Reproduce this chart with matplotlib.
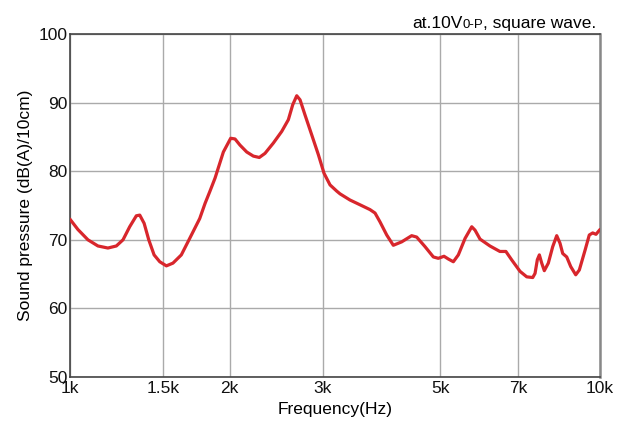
import matplotlib
matplotlib.use("Agg")
import matplotlib.pyplot as plt
from matplotlib.offsetbox import TextArea, HPacker, AnchoredOffsetbox

plt.rcParams['font.family'] = ['Liberation Sans', 'DejaVu Sans']

# frequency response (Hz, dB(A))
freq = [1000, 1035, 1081, 1129, 1179, 1223, 1259, 1296, 1334, 1354, 1380, 1408,
        1441, 1477, 1520, 1564, 1622, 1682, 1757, 1798, 1835, 1878, 1947, 2010,
        2048, 2093, 2155, 2218, 2276, 2333, 2419, 2509, 2582, 2632, 2678, 2717,
        2776, 2858, 2942, 3015, 3095, 3186, 3232, 3375, 3526, 3682, 3763, 3846,
        3959, 4074, 4225, 4412, 4509, 4676, 4848, 4954, 5078, 5174, 5288, 5404,
        5564, 5728, 5811, 5938, 6199, 6473, 6644, 6810, 7065, 7274, 7466, 7541,
        7617, 7684, 7763, 7851, 7989, 8143, 8286, 8405, 8505, 8654, 8805, 8999,
        9141, 9373, 9545, 9688, 9828, 10000]
spl = [73.0, 71.5, 70.0, 69.1, 68.8, 69.1, 70.0, 71.9, 73.5, 73.6, 72.4, 70.0,
       67.8, 66.8, 66.2, 66.6, 67.8, 70.2, 73.1, 75.3, 77.0, 79.0, 82.8, 84.8,
       84.7, 83.8, 82.8, 82.2, 82.0, 82.6, 84.1, 85.8, 87.5, 89.7, 91.0, 90.4,
       88.2, 85.3, 82.4, 79.7, 78.0, 77.1, 76.7, 75.8, 75.1, 74.4, 73.9, 72.6,
       70.7, 69.2, 69.7, 70.6, 70.4, 69.0, 67.5, 67.3, 67.6, 67.2, 66.8, 67.8,
       70.2, 71.9, 71.4, 70.1, 69.1, 68.3, 68.3, 67.1, 65.4, 64.6, 64.5, 65.1,
       67.1, 67.8, 66.6, 65.5, 66.6, 69.0, 70.6, 69.5, 68.0, 67.5, 66.1, 64.9,
       65.6, 68.5, 70.7, 71.0, 70.8, 71.5]

xticks = [1000, 1500, 2000, 3000, 5000, 7000, 10000]
xlabels = ['1k', '1.5k', '2k', '3k', '5k', '7k', '10k']
yticks = [50, 60, 70, 80, 90, 100]

fig = plt.figure(figsize=(6.24, 4.21), dpi=100)
ax = fig.add_axes([70 / 624, 1 - 377 / 421, 530 / 624, 343 / 421])

ax.plot(freq, spl, color='#d8262c', linewidth=2.3, solid_joinstyle='round',
        solid_capstyle='round', zorder=3)

ax.set_xscale('log')
ax.set_xlim(1000, 10000)
ax.set_ylim(50, 100)
ax.set_xticks(xticks)
ax.set_xticklabels(xlabels)
ax.xaxis.set_minor_locator(matplotlib.ticker.NullLocator())
ax.set_yticks(yticks)
ax.tick_params(length=0, labelsize=12.5, colors='#111111')
ax.tick_params(axis='x', pad=3)
ax.tick_params(axis='y', pad=2)
ax.grid(True, color='#aaaaaa', linewidth=1.0)
for side in ax.spines.values():
    side.set_color('#444444')
    side.set_linewidth(1.2)
ax.spines['right'].set_color('#888888')
ax.spines['right'].set_linewidth(1.8)

ax.set_xlabel('Frequency(Hz)', fontsize=12.5, labelpad=4)
ax.set_ylabel('Sound pressure (dB(A)/10cm)', fontsize=12.5, labelpad=4)

# note at the top right: "at.10V0-P, square wave."
parts = [TextArea('at.10V', textprops=dict(fontsize=12.5)),
         TextArea('0-P', textprops=dict(fontsize=9.5)),
         TextArea(', square wave.', textprops=dict(fontsize=12.5))]
box = HPacker(children=parts, align='baseline', pad=0, sep=0)
anchored = AnchoredOffsetbox(loc='lower right', child=box, pad=0, borderpad=0.25,
                             frameon=False, bbox_to_anchor=(1, 1),
                             bbox_transform=ax.transAxes)
ax.add_artist(anchored)

fig.savefig('out.png', dpi=100)
